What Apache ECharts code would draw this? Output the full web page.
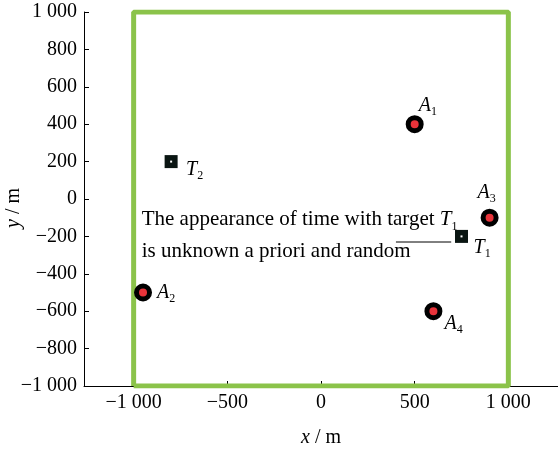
<!DOCTYPE html>
<html><head><meta charset="utf-8">
<script src="https://cdn.jsdelivr.net/npm/echarts@6/dist/echarts.min.js"></script>
<style>html,body{margin:0;padding:0;background:#fff}#c{width:558px;height:454px}</style>
</head><body><div id="c"></div>
<script>
// ---- data ----
var anchorNames = ['A1', 'A2', 'A3', 'A4'];
var anchorX = [500, -950, 900, 600];
var anchorY = [400, -500, -100, -600];
var targetNames = ['T1', 'T2'];
var targetX = [750, -800];
var targetY = [-200, 200];
var xTicks = [-1000, -500, 0, 500, 1000];
var xTickLabels = ['\u22121 000', '\u2212500', '0', '500', '1 000'];
var yTicks = [-1000, -800, -600, -400, -200, 0, 200, 400, 600, 800, 1000];
var yTickLabels = ['\u22121 000', '\u2212800', '\u2212600', '\u2212400', '\u2212200', '0', '200', '400', '600', '800', '1 000'];
var regionX = [-1000, -1000, 1000, 1000, -1000];
var regionY = [-1000, 1000, 1000, -1000, -1000];
var noteLines = ['The appearance of time with target {i|T}{s|1}', 'is unknown a priori and random'];
var notePos = [-957, -197];
var leaderX = [400, 695];
var leaderY = [-230, -230];

var SERIF = '"Liberation Serif","DejaVu Serif",serif';
var INK = '#000';
var subRich = {
  i: {fontFamily: SERIF, fontStyle: 'italic', fontSize: 20, color: INK},
  s: {fontFamily: SERIF, fontSize: 12, color: INK, padding: [12, 0, 0, 0]}
};
function labelFmt(name) {
  return '{i|' + name.charAt(0) + '}{s|' + name.slice(1) + '}';
}
var anchorLabelOff = [[4, -18], [14, 0], [-12, -25], [11, 13]];
var targetLabelOff = [[12, 11], [15, 8]];

var anchors = anchorNames.map(function (n, k) {
  return {value: [anchorX[k], anchorY[k]], name: n,
    label: {offset: anchorLabelOff[k]}};
});
var targets = targetNames.map(function (n, k) {
  return {value: [targetX[k], targetY[k]], name: n,
    label: {offset: targetLabelOff[k]}};
});

function tickLabel(list, labels) {
  return function (v) {
    var i = list.indexOf(v);
    return i >= 0 ? labels[i] : '';
  };
}
var ptLabel = {
  show: true, position: 'inside', align: 'left', verticalAlign: 'middle',
  formatter: function (p) { return labelFmt(p.name); }, rich: subRich, color: INK
};

var chart = echarts.init(document.getElementById('c'));
chart.setOption({
  backgroundColor: '#ffffff',
  animation: false,
  grid: {left: 84, right: 0, top: 12, bottom: 68, containLabel: false, outerBoundsMode: 'none'},
  xAxis: {
    type: 'value', min: -1265, max: 1265,
    axisLine: {show: true, onZero: false, lineStyle: {color: INK, width: 1}},
    axisTick: {show: true, inside: true, length: 5, customValues: xTicks, lineStyle: {color: INK}},
    axisLabel: {customValues: xTicks, formatter: tickLabel(xTicks, xTickLabels), margin: 7,
      fontFamily: SERIF, fontSize: 20, color: INK},
    splitLine: {show: false},
    name: '{i|x} / m', nameLocation: 'middle', nameGap: 42, nameMoveOverlap: false,
    nameTextStyle: {fontFamily: SERIF, fontSize: 20, color: INK,
      rich: {i: {fontFamily: SERIF, fontStyle: 'italic', fontSize: 20, color: INK}}}
  },
  yAxis: {
    type: 'value', min: -1000, max: 1000, interval: 200,
    axisLine: {show: true, onZero: false, lineStyle: {color: INK, width: 1}},
    axisTick: {show: true, inside: true, length: 5, lineStyle: {color: INK}},
    axisLabel: {formatter: tickLabel(yTicks, yTickLabels), margin: 7,
      fontFamily: SERIF, fontSize: 20, color: INK},
    splitLine: {show: false},
    name: '{i|y} / m', nameLocation: 'middle', nameGap: 60, nameMoveOverlap: false,
    nameTextStyle: {fontFamily: SERIF, fontSize: 20, color: INK, padding: [0, 18, 0, 0],
      rich: {i: {fontFamily: SERIF, fontStyle: 'italic', fontSize: 20, color: INK}}}
  },
  series: [
    {
      type: 'line', data: regionX.map(function (x, k) { return [x, regionY[k]]; }),
      symbol: 'none', lineStyle: {color: '#8bc34a', width: 5}, z: 1, silent: true
    },
    {
      type: 'line', data: leaderX.map(function (x, k) { return [x, leaderY[k]]; }),
      symbol: 'none', lineStyle: {color: INK, width: 1}, z: 2, silent: true
    },
    {
      type: 'scatter', data: [{value: notePos}], symbolSize: 0, z: 3, silent: true,
      itemStyle: {opacity: 1},
      label: {show: true, position: 'inside', align: 'left', verticalAlign: 'middle',
        formatter: noteLines.join('\n'), fontFamily: SERIF, fontSize: 21, color: INK,
        lineHeight: 32, rich: {
          i: {fontFamily: SERIF, fontStyle: 'italic', fontSize: 21, color: INK},
          s: {fontFamily: SERIF, fontSize: 12, color: INK, padding: [14, 0, 0, 0]}
        }}
    },
    {
      type: 'scatter', data: anchors, symbol: 'circle', symbolSize: 13, z: 4,
      itemStyle: {color: '#e8333a', borderColor: '#000', borderWidth: 5, opacity: 1},
      label: ptLabel
    },
    {
      type: 'scatter', data: targets, symbol: 'rect', symbolSize: 13, z: 4,
      itemStyle: {color: '#0a1512', opacity: 1},
      label: ptLabel
    },
    {
      type: 'scatter', data: targets.map(function (t) { return t.value; }), symbol: 'rect', symbolSize: 2, z: 5,
      itemStyle: {color: '#ffffff', opacity: 1}, silent: true
    }
  ]
});
</script></body></html>
